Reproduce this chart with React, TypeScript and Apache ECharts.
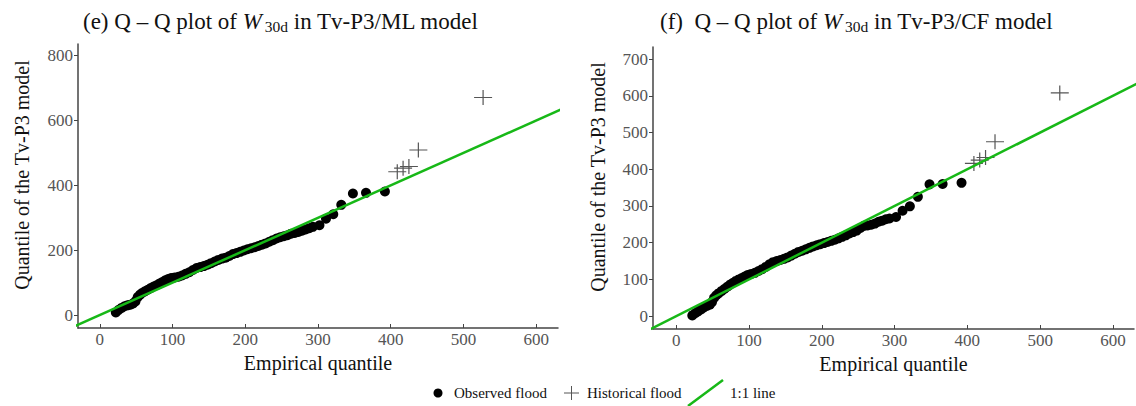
import { useEffect, useRef } from "react";
import * as echarts from "echarts";

const FONT = "Liberation Serif, Times New Roman, serif";

// Empirical quantiles of observed floods (shared by both panels)
const empiricalX = [
  22, 26, 30, 34, 38, 42, 46, 49, 52, 55, 58, 62, 66, 70, 74, 78, 82, 86, 90, 94,
  98, 103, 108, 113, 118, 123, 128, 133, 138, 143, 148, 153, 158, 163, 168, 173, 178, 183, 188, 193,
  198, 203, 208, 213, 218, 223, 228, 233, 238, 243, 248, 253, 258, 263, 268, 273, 278, 283, 288, 293,
  302, 311, 321, 332, 348, 366, 392,
];
// Model quantiles, panel (e) Tv-P3/ML
const observedMLY = [
  8, 16, 22, 27, 30, 32, 36, 42, 55, 62, 68, 73, 78, 83, 88, 92, 97, 102, 107, 111,
  114, 116, 118, 122, 127, 132, 139, 145, 148, 151, 155, 160, 165, 170, 174, 177, 182, 188, 191, 195,
  199, 203, 206, 209, 213, 217, 221, 226, 231, 236, 240, 243, 246, 251, 253, 256, 260, 264, 268, 272,
  277, 297, 311, 340, 375, 377, 381,
];
// Model quantiles, panel (f) Tv-P3/CF
const observedCFY = [
  2, 8, 13, 18, 24, 28, 31, 38, 50, 57, 62, 68, 74, 80, 86, 91, 96, 100, 104, 108,
  112, 115, 118, 123, 128, 134, 141, 147, 150, 153, 156, 160, 165, 170, 175, 178, 182, 186, 190, 193,
  196, 199, 202, 205, 208, 212, 216, 220, 225, 229, 233, 240, 246, 247, 249, 252, 257, 260, 264, 266,
  270, 287, 299, 325, 359, 360, 363,
];
// Historical floods
const historicalX = [409, 417, 425, 438, 527];
const historicalMLY = [442, 453, 458, 509, 671];
const historicalCFY = [416, 425, 432, 475, 608];
// 1:1 line ends
const oneToOneEnds = [-40, 640];
// Tick values
const xTicks = [0, 100, 200, 300, 400, 500, 600];
const yTicksML = [0, 200, 400, 600, 800];
const yTicksCF = [0, 100, 200, 300, 400, 500, 600, 700];

const GREEN = "#17b817";
const AXIS = "#444";
const CROSS = "path://M0,7.4H18V8.6H0Z M8.4,0H9.6V16H8.4Z";

function xAxisDef(gridIndex: number, min: number, max: number) {
  return {
    type: "value",
    gridIndex,
    min,
    max,
    name: "Empirical quantile",
    nameLocation: "middle",
    nameGap: 25,
    nameTextStyle: { fontFamily: FONT, fontSize: 20, color: "#111" },
    axisLine: { show: true, onZero: false, lineStyle: { color: AXIS, width: 1.5 } },
    axisTick: { show: true, inside: true, length: 4, customValues: xTicks, lineStyle: { color: AXIS, width: 1 } },
    axisLabel: { customValues: xTicks, color: "#555", fontFamily: FONT, fontSize: 17, margin: 3 },
    splitLine: { show: false },
  };
}

function yAxisDef(gridIndex: number, min: number, max: number, ticks: number[]) {
  return {
    type: "value",
    gridIndex,
    min,
    max,
    axisLine: { show: true, onZero: false, lineStyle: { color: AXIS, width: 1.5 } },
    axisTick: { show: true, inside: false, length: 4, customValues: ticks, lineStyle: { color: AXIS, width: 1 } },
    axisLabel: { customValues: ticks, color: "#555", fontFamily: FONT, fontSize: 17, margin: 5 },
    splitLine: { show: false },
  };
}

const titleRich = {
  a: { fontFamily: FONT, fontSize: 23, color: "#111", lineHeight: 26 },
  w: { fontFamily: FONT, fontSize: 23, fontStyle: "italic", color: "#111", lineHeight: 26, padding: [0, 3, 0, 0] },
  s: { fontFamily: FONT, fontSize: 15.5, color: "#111", lineHeight: 14, verticalAlign: "bottom" },
};

export default function App() {
  const ref = useRef<HTMLDivElement>(null);
  useEffect(() => {
    const chart = echarts.init(ref.current!, null, { renderer: "svg" });
    const option = {
      animation: false,
      backgroundColor: "#fff",
      textStyle: { fontFamily: FONT },
      title: [
        {
          left: 78,
          top: 3,
          text: "{a|(e) Q – Q plot of }{w|W}{s|30d}{a| in Tv-P3/ML model}",
          textStyle: { fontFamily: FONT, fontSize: 23, fontWeight: "normal", color: "#111", rich: titleRich },
        },
        {
          left: 655,
          top: 3,
          text: "{a|(f)  Q – Q plot of }{w|W}{s|30d}{a| in Tv-P3/CF model}",
          textStyle: { fontFamily: FONT, fontSize: 23, fontWeight: "normal", color: "#111", rich: titleRich },
        },
      ],
      grid: [
        { left: 78, top: 44, width: 480, height: 284 },
        { left: 653, top: 47, width: 481, height: 282 },
      ],
      xAxis: [xAxisDef(0, -30, 630), xAxisDef(1, -32, 629)],
      yAxis: [yAxisDef(0, -40, 836, yTicksML), yAxisDef(1, -35, 733, yTicksCF)],
      series: [
        {
          type: "line",
          xAxisIndex: 0,
          yAxisIndex: 0,
          data: oneToOneEnds.map((v) => [v, v]),
          symbol: "none",
          clip: true,
          lineStyle: { color: GREEN, width: 2.5 },
        },
        {
          type: "scatter",
          xAxisIndex: 0,
          yAxisIndex: 0,
          data: empiricalX.map((x, i) => [x, observedMLY[i]]),
          symbol: "circle",
          symbolSize: 10,
          itemStyle: { color: "#000", opacity: 1 },
        },
        {
          type: "scatter",
          xAxisIndex: 0,
          yAxisIndex: 0,
          data: historicalX.map((x, i) => [x, historicalMLY[i]]),
          symbol: CROSS,
          symbolSize: [18, 15],
          itemStyle: { color: "#555", opacity: 1 },
        },
        {
          type: "line",
          xAxisIndex: 1,
          yAxisIndex: 1,
          data: oneToOneEnds.map((v) => [v, v]),
          symbol: "none",
          clip: true,
          lineStyle: { color: GREEN, width: 2.5 },
        },
        {
          type: "scatter",
          xAxisIndex: 1,
          yAxisIndex: 1,
          data: empiricalX.map((x, i) => [x, observedCFY[i]]),
          symbol: "circle",
          symbolSize: 10,
          itemStyle: { color: "#000", opacity: 1 },
        },
        {
          type: "scatter",
          xAxisIndex: 1,
          yAxisIndex: 1,
          data: historicalX.map((x, i) => [x, historicalCFY[i]]),
          symbol: CROSS,
          symbolSize: [18, 15],
          itemStyle: { color: "#555", opacity: 1 },
        },
      ],
      graphic: [
        {
          type: "text",
          x: 22,
          y: 175,
          rotation: Math.PI / 2,
          style: { text: "Quantile of the Tv-P3 model", fontFamily: FONT, fontSize: 20, fill: "#111", align: "center", verticalAlign: "middle" },
        },
        {
          type: "text",
          x: 598,
          y: 177,
          rotation: Math.PI / 2,
          style: { text: "Quantile of the Tv-P3 model", fontFamily: FONT, fontSize: 20, fill: "#111", align: "center", verticalAlign: "middle" },
        },
        { type: "circle", shape: { cx: 438, cy: 393, r: 4.5 }, style: { fill: "#000" } },
        { type: "text", x: 454, y: 393, style: { text: "Observed flood", fontFamily: FONT, fontSize: 15, fill: "#111", verticalAlign: "middle" } },
        { type: "line", shape: { x1: 564, y1: 393, x2: 579, y2: 393 }, style: { stroke: "#555", lineWidth: 1 } },
        { type: "line", shape: { x1: 571.5, y1: 386, x2: 571.5, y2: 400 }, style: { stroke: "#555", lineWidth: 1 } },
        { type: "text", x: 587, y: 393, style: { text: "Historical flood", fontFamily: FONT, fontSize: 15, fill: "#111", verticalAlign: "middle" } },
        { type: "line", shape: { x1: 688, y1: 406, x2: 723, y2: 380 }, style: { stroke: GREEN, lineWidth: 2.5 } },
        { type: "text", x: 730, y: 393, style: { text: "1:1 line", fontFamily: FONT, fontSize: 15, fill: "#111", verticalAlign: "middle" } },
      ],
    };
    chart.setOption(option as any);
    return () => chart.dispose();
  }, []);
  return (
    <div
      ref={ref}
      style={{ position: "fixed", left: 0, top: 0, width: 1136, height: 406, background: "#fff" }}
    />
  );
}
